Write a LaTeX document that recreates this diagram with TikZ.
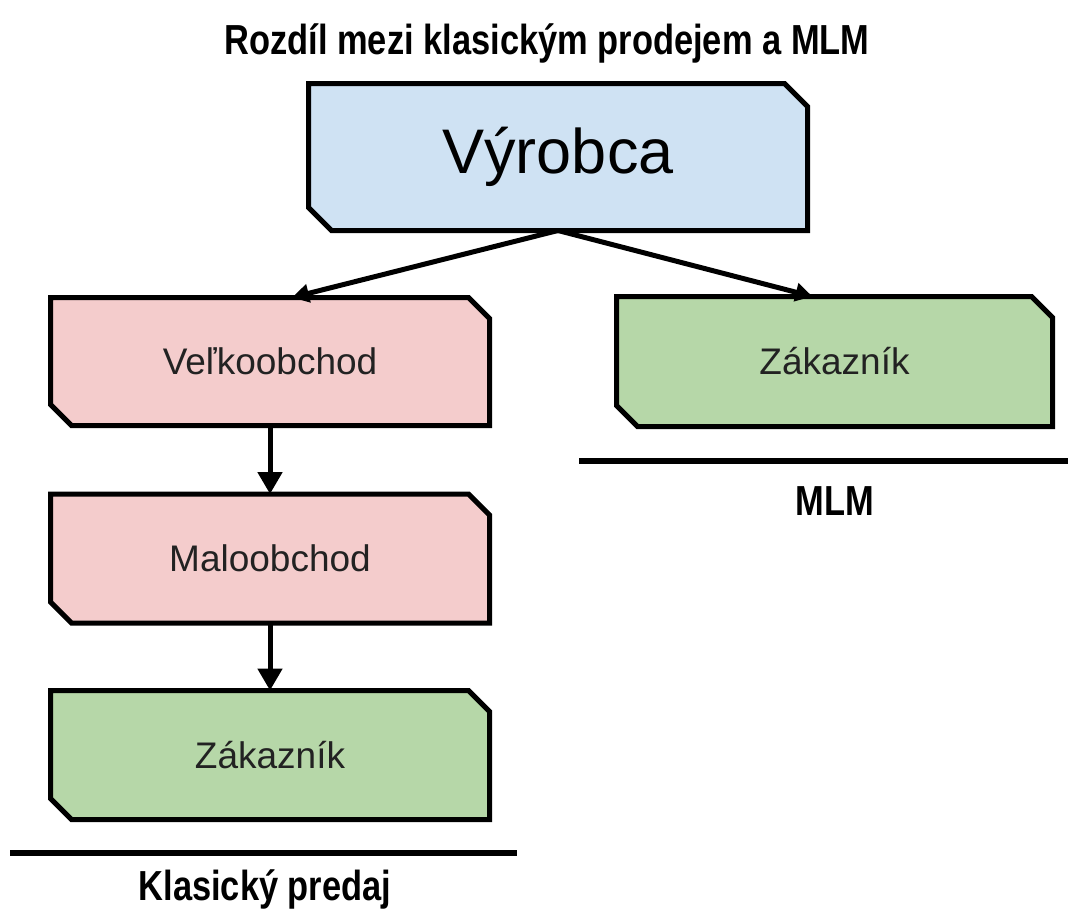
\documentclass[tikz,border=0pt]{standalone}
\usepackage{fontspec}
\usepackage{graphicx}
\setmainfont{Liberation Sans}
\usetikzlibrary{calc,arrows.meta,backgrounds}
\definecolor{vblue}{HTML}{CFE2F3}
\definecolor{vpink}{HTML}{F4CCCC}
\definecolor{vgreen}{HTML}{B6D7A8}
\definecolor{txt}{HTML}{222222}
\tikzset{
  frame/.style={rectangle, inner sep=0pt, outer sep=0pt, draw=none},
  boxline/.style={draw=black, line width=5pt, line join=miter},
  lbl/.style={font=\fontsize{37}{40}\selectfont, text=txt},
  biglbl/.style={font=\fontsize{63}{66}\selectfont, text=black},
  head/.style={font=\bfseries\fontsize{42}{46}\selectfont, inner sep=0pt},
  conn/.style={line width=5pt, -{Triangle[length=22pt,width=24pt]}},
  diag/.style={line width=5pt, -{Triangle[length=17pt,width=18pt]}},
  rulebar/.style={line width=6pt},
}
\newcommand\snipbox[3]{%
  \filldraw[boxline, fill=#2] (#1.north west) -- ($(#1.north east)+(-#3,0pt)$) -- ($(#1.north east)+(0pt,-#3)$) -- (#1.south east) -- ($(#1.south west)+(#3,0pt)$) -- ($(#1.south west)+(0pt,#3)$) -- cycle;}
\begin{document}
\begin{tikzpicture}[x=1pt,y=-1pt]
\useasboundingbox (0,0) rectangle (1070,913);
\node[head, anchor=base] (title) at (547,54) {\scalebox{0.82}[1]{Rozdíl mezi klasickým prodejem a MLM}};

\node[frame, minimum width=499pt, minimum height=147pt, biglbl] (vyr) at (558,157) {Výrobca};
\node[frame, minimum width=439pt, minimum height=128pt, lbl] (vel) at (270,361.5) {Veľkoobchod};
\node[frame, minimum width=439pt, minimum height=129pt, lbl] (mal) at (270,558.5) {Maloobchod};
\node[frame, minimum width=439pt, minimum height=129pt, lbl] (zak1) at (270,755) {Zákazník};
\node[frame, minimum width=436pt, minimum height=130pt, lbl] (zak2) at (834.5,361.5) {Zákazník};

\begin{scope}[on background layer]
  \snipbox{vyr}{vblue}{23pt}
  \snipbox{vel}{vpink}{21pt}
  \snipbox{mal}{vpink}{21pt}
  \snipbox{zak1}{vgreen}{21pt}
  \snipbox{zak2}{vgreen}{21pt}
\end{scope}

\draw[diag] (vyr.south) -- ($(vel.north)+(22pt,0pt)$);
\draw[diag] (vyr.south) -- ($(zak2.north)+(-22pt,0pt)$);
\draw[conn] (vel.south) -- (mal.north);
\draw[conn] (mal.south) -- (zak1.north);

\coordinate (m1) at (579,461);
\coordinate (m2) at (1068,461);
\draw[rulebar] (m1) -- (m2);
\node[head, anchor=base] (mlm) at (835,515) {\scalebox{0.82}[1]{MLM}};

\coordinate (k1) at (10,853);
\coordinate (k2) at (517,853);
\draw[rulebar] (k1) -- (k2);
\node[head, anchor=base] (kp) at (265,900) {\scalebox{0.82}[1]{Klasický predaj}};
\end{tikzpicture}
\end{document}
